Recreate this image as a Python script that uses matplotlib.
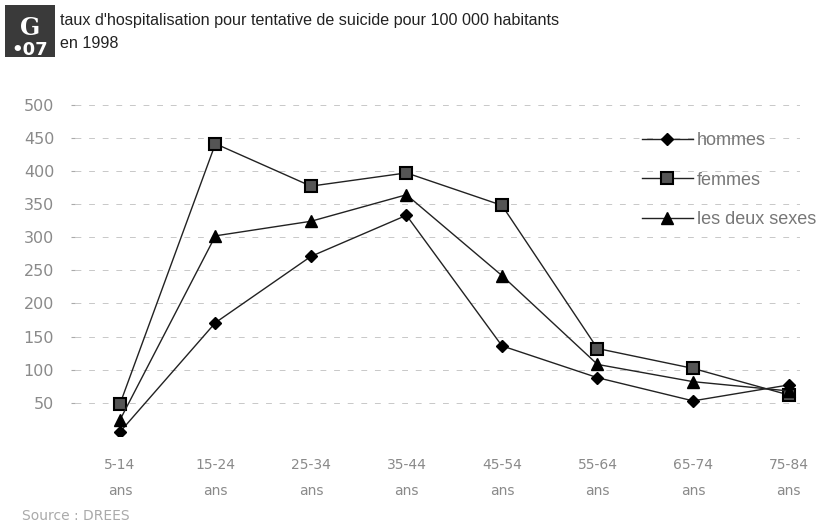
import matplotlib.pyplot as plt
from matplotlib.patches import Rectangle

ages = ['5-14\nans', '15-24\nans', '25-34\nans', '35-44\nans',
        '45-54\nans', '55-64\nans', '65-74\nans', '75-84\nans']
hommes = [6, 171, 271, 333, 136, 88, 53, 77]
femmes = [48, 441, 377, 397, 348, 132, 102, 62]
deux_sexes = [24, 302, 324, 364, 242, 108, 82, 68]
yticks = [50, 100, 150, 200, 250, 300, 350, 400, 450, 500]

fig = plt.figure(figsize=(8.22, 5.31), dpi=100)
ax = fig.add_axes([75/822, 1-436/531, (800-75)/822, (436-98)/531])

x = range(len(ages))
ax.plot(x, hommes, color='#222222', lw=1, marker='D', ms=6, mfc='black', mec='black', label='hommes')
ax.plot(x, femmes, color='#222222', lw=1, marker='s', ms=8, mfc='#555555', mec='black', mew=1.5, label='femmes')
ax.plot(x, deux_sexes, color='#222222', lw=1, marker='^', ms=8, mfc='black', mec='black', label='les deux sexes')

ax.set_xlim(-0.47, 7.12)
ax.set_ylim(0, 510)
ax.set_xticks(list(x))
ax.set_xticklabels(ages, color='#8a8a8a', fontsize=10, linespacing=2.1)
ax.set_yticks(yticks)
ax.set_yticklabels([str(v) for v in yticks], color='#8a8a8a', fontsize=11.5)
ax.tick_params(axis='y', length=3, pad=12, color='#aaaaaa')
ax.tick_params(axis='x', length=0, pad=16)
for s in ax.spines.values():
    s.set_visible(False)
for v in yticks:
    ax.axhline(v, color='#c8c8c8', lw=0.7, ls=(0, (6, 8)), zorder=0)

leg = ax.legend(loc='upper right', bbox_to_anchor=(1.045, 0.947), frameon=False,
                prop={'family': 'Liberation Sans', 'size': 13},
                handlelength=2.8, labelspacing=1.25, handletextpad=0.25)
for t in leg.get_texts():
    t.set_color('#777777')

fig.patches.append(Rectangle((5/822, 1-57/531), 50/822, 52/531, transform=fig.transFigure,
                             facecolor='#3a3a3a', edgecolor='none'))
fig.text(30/822, 1-28/531, 'G', color='white', fontsize=17, fontweight='bold',
         ha='center', va='center', family='DejaVu Serif')
fig.text(30/822, 1-50/531, '•07', color='white', fontsize=13, fontweight='bold',
         ha='center', va='center')
fig.text(60/822, 1-20/531, "taux d'hospitalisation pour tentative de suicide pour 100 000 habitants",
         fontsize=11.6, va='center', color='#222222', family='Liberation Sans')
fig.text(60/822, 1-44/531, 'en 1998', fontsize=11.6, va='center', color='#222222',
         family='Liberation Sans')
fig.text(22/822, 1-516/531, 'Source : DREES', fontsize=10, va='center', color='#aaaaaa')

fig.savefig('out.png', dpi=100)
